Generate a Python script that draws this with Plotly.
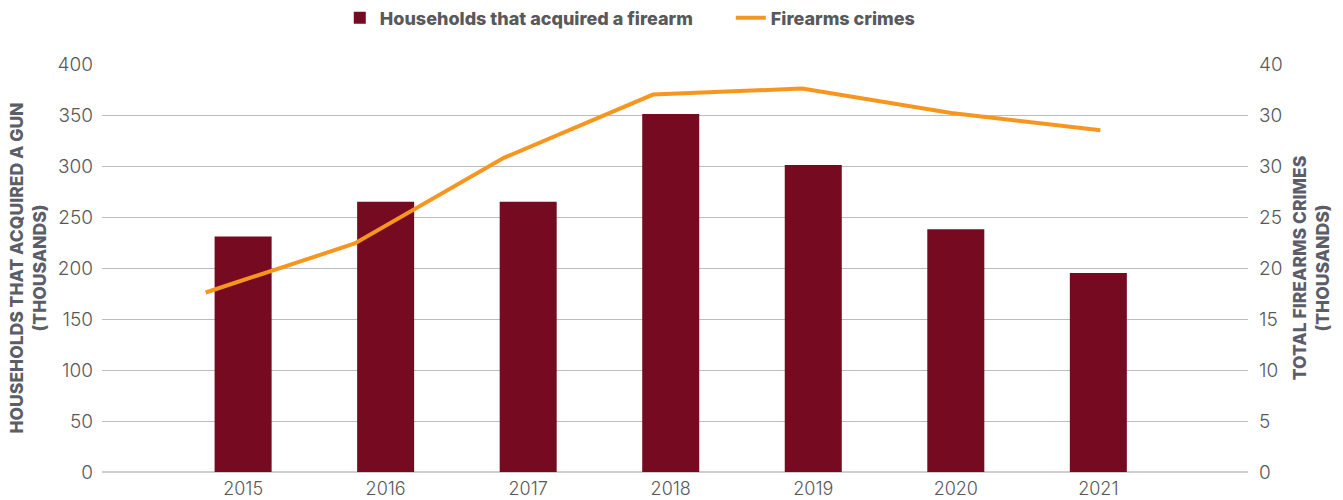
import plotly.graph_objects as go

years = ["2015", "2016", "2017", "2018", "2019", "2020", "2021"]
households = [231, 265, 265, 351, 301, 238, 195]          # thousands
firearm_crimes = [17.6, 22.4, 30.8, 37.0, 37.6, 35.2, 33.5]  # thousands

left_ticks = [0, 50, 100, 150, 200, 250, 300, 350, 400]
right_ticks = [0, 5, 10, 15, 20, 25, 30, 35, 40]
right_tick_text = ["0", "5", "10", "15", "20", "25", "30", "30", "40"]

BAR_COLOR = "#760A21"
LINE_COLOR = "#F7961E"
TEXT_GRAY = "#58595B"
TITLE_GRAY = "#5B5E68"
GRID = "#BDBDBD"

fig = go.Figure()

fig.add_trace(go.Bar(
    x=years, y=households, name="Households that acquired a firearm",
    marker=dict(color=BAR_COLOR, line=dict(width=0)),
    width=0.4, xaxis="x", yaxis="y",
))

fig.add_trace(go.Scatter(
    x=years, y=firearm_crimes, name="Firearms crimes",
    mode="lines", line=dict(color=LINE_COLOR, width=4),
    xaxis="x2", yaxis="y2",
))

tick_font = dict(family="Inter", size=19, color=TEXT_GRAY, weight=300)
title_font = dict(family="Inter", size=17.5, color=TITLE_GRAY, weight=800)

fig.update_layout(
    width=1343, height=500,
    margin=dict(l=102, r=95, t=64, b=28, autoexpand=False),
    paper_bgcolor="white", plot_bgcolor="white",
    showlegend=True,
    legend=dict(
        orientation="h", xref="container", yref="container",
        x=0.253, xanchor="left", y=0.964, yanchor="middle",
        font=dict(family="Inter", size=18, color=TEXT_GRAY, weight=800),
        itemwidth=30, entrywidth=346, traceorder="normal",
    ),
    xaxis=dict(
        type="category", range=[-0.99, 7.05], automargin=False,
        showgrid=False, showline=False, ticks="", ticklabelstandoff=4,
        tickfont=dict(family="Inter", size=18, color=TEXT_GRAY, weight=300),
    ),
    xaxis2=dict(
        type="category", range=[-0.695, 6.99], overlaying="x",
        visible=False,
    ),
    yaxis=dict(
        range=[0, 400], tickvals=left_ticks, automargin=False,
        showgrid=True, gridcolor=GRID, gridwidth=1,
        zeroline=True, zerolinecolor="#CFCFCF", zerolinewidth=2,
        showline=False, ticks="", ticklabelstandoff=8,
        tickfont=tick_font,
        title=dict(text="HOUSEHOLDS THAT ACQUIRED A GUN<br>(THOUSANDS)",
                   font=title_font, standoff=6),
    ),
    yaxis2=dict(
        range=[0, 40], tickvals=right_ticks, ticktext=right_tick_text,
        overlaying="y", side="right", automargin=False,
        showgrid=False, zeroline=False, showline=False, ticks="",
        ticklabelstandoff=10,
        tickfont=tick_font,
        title=dict(text="TOTAL FIREARMS CRIMES<br>(THOUSANDS)",
                   font=title_font, standoff=12),
    ),
)

fig.write_html("out.html")
